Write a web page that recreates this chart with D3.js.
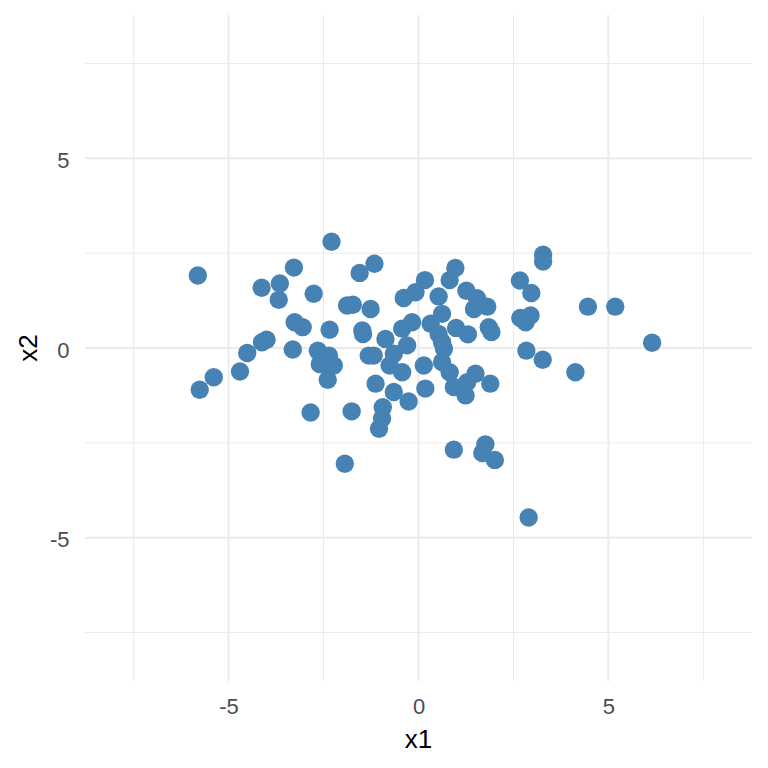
<!DOCTYPE html>
<html>
<head>
<meta charset="utf-8">
<script src="https://cdn.jsdelivr.net/npm/d3@7"></script>
<style>
  html, body { margin: 0; padding: 0; background: #ffffff; }
  svg { display: block; font-family: "Liberation Sans", Arial, sans-serif; }
</style>
</head>
<body>
<svg id="chart" width="768" height="768"></svg>
<script>
// ---- data ----
const x1 = [
  -5.81, -5.76, -5.39, -4.70, -4.51, -4.13, -3.65, -3.68, -4.12, -4.00,
  -3.28, -3.26, -3.05, -3.31, -2.76, -2.65, -2.36, -2.40, -2.60, -2.23,
  -2.39, -2.34, -2.29, -2.84, -1.94, -1.88, -1.73, -1.76, -1.55, -1.48,
  -1.46, -1.26, -1.16, -1.31, -1.18, -1.13, -0.94, -0.96, -1.04, -0.87,
  -0.76, -0.65, -0.65, -0.43, -0.43, -0.39, -0.30, -0.26, -0.17, -0.08,
   0.14,  0.18,  0.17,  0.32,  0.53,  0.53,  0.62,  0.62,  0.62,  0.67,
   0.82,  0.82,  0.97,  0.93,  0.93,  0.99,  1.26,  1.24,  1.28,  1.30,
   1.46,  1.54,  1.50,  1.76,  1.68,  2.01,  1.81,  1.85,  1.92,  1.89,
   2.67,  2.97,  2.68,  2.95,  2.82,  2.84,  3.27,  2.90,  3.28,  3.28,
   4.13,  4.46,  5.18,  6.15
];
const x2 = [
   1.91, -1.10, -0.77, -0.62, -0.13,  1.59,  1.70,  1.27,  0.15,  0.22,
   2.12,  0.68,  0.55, -0.04,  1.43, -0.07, -0.20, -0.42, -0.42, -0.46,
  -0.84,  0.48,  2.80, -1.70, -3.05,  1.12,  1.14, -1.67,  1.98,  0.46,
   0.37,  1.03,  2.22, -0.20, -0.20, -0.94, -1.56, -1.86, -2.13,  0.24,
  -0.46, -0.15, -1.16, -0.64,  0.51,  1.32,  0.07, -1.41,  0.68,  1.47,
  -0.46, -1.07,  1.79,  0.64,  1.36,  0.37,  0.90,  0.15, -0.37, -0.02,
  -0.64,  1.79,  2.11, -1.03, -2.68,  0.53,  1.51, -1.25, -0.90,  0.36,
   1.03,  1.31, -0.68, -2.54, -2.77, -2.95,  1.09,  0.55,  0.42, -0.94,
   1.78,  1.45,  0.79,  0.86,  0.68, -0.07, -0.31, -4.47,  2.46,  2.28,
  -0.64,  1.09,  1.09,  0.14
];
const majorTicks = [-5, 0, 5];
const minorTicks = [-7.5, -2.5, 2.5, 7.5];
const tickLabels = ["-5", "0", "5"];
const xTitle = "x1";
const yTitle = "x2";
const domain = [-8.78, 8.78];

// ---- layout ----
const svg = d3.select("#chart");
const panel = { left: 85, right: 752, top: 15, bottom: 681 };

const xScale = d3.scaleLinear().domain(domain).range([panel.left, panel.right]);
const yScale = d3.scaleLinear().domain(domain).range([panel.bottom, panel.top]);

const grid = svg.append("g");
// minor grid
grid.selectAll("line.vminor").data(minorTicks).enter().append("line")
  .attr("x1", d => xScale(d)).attr("x2", d => xScale(d))
  .attr("y1", panel.top).attr("y2", panel.bottom)
  .attr("stroke", "#ebebeb").attr("stroke-width", 1);
grid.selectAll("line.hminor").data(minorTicks).enter().append("line")
  .attr("y1", d => yScale(d)).attr("y2", d => yScale(d))
  .attr("x1", panel.left).attr("x2", panel.right)
  .attr("stroke", "#ebebeb").attr("stroke-width", 1);
// major grid
grid.selectAll("line.vmajor").data(majorTicks).enter().append("line")
  .attr("x1", d => xScale(d)).attr("x2", d => xScale(d))
  .attr("y1", panel.top).attr("y2", panel.bottom)
  .attr("stroke", "#ebebeb").attr("stroke-width", 2);
grid.selectAll("line.hmajor").data(majorTicks).enter().append("line")
  .attr("y1", d => yScale(d)).attr("y2", d => yScale(d))
  .attr("x1", panel.left).attr("x2", panel.right)
  .attr("stroke", "#ebebeb").attr("stroke-width", 2);

// axes (labels only, ggplot minimal style)
const xAxis = d3.axisBottom(xScale).tickValues(majorTicks)
  .tickFormat((d, i) => tickLabels[i]).tickSize(0).tickPadding(0);
const gx = svg.append("g").attr("transform", `translate(0,714)`).call(xAxis);
gx.select(".domain").remove();
gx.selectAll("text").attr("font-size", 22).attr("fill", "#4d4d4d")
  .attr("font-family", "Liberation Sans, Arial, sans-serif").attr("dy", 0).attr("y", 0);

const yAxis = d3.axisLeft(yScale).tickValues(majorTicks)
  .tickFormat((d, i) => tickLabels[i]).tickSize(0).tickPadding(0);
const gy = svg.append("g").attr("transform", `translate(69.5,0)`).call(yAxis);
gy.select(".domain").remove();
gy.selectAll("text").attr("font-size", 22).attr("fill", "#4d4d4d")
  .attr("font-family", "Liberation Sans, Arial, sans-serif").attr("dy", "0.42em");

// titles
svg.append("text").attr("x", (panel.left + panel.right) / 2).attr("y", 748)
  .attr("text-anchor", "middle").attr("font-size", 26).attr("fill", "#000")
  .text(xTitle);
svg.append("text")
  .attr("transform", `translate(36.5,${(panel.top + panel.bottom) / 2}) rotate(-90)`)
  .attr("text-anchor", "middle").attr("font-size", 26).attr("fill", "#000")
  .text(yTitle);

// points
svg.append("g").selectAll("circle").data(x1.map((v, i) => [v, x2[i]])).enter()
  .append("circle")
  .attr("cx", d => xScale(d[0])).attr("cy", d => yScale(d[1]))
  .attr("r", 9.2).attr("fill", "steelblue");
</script>
</body>
</html>
